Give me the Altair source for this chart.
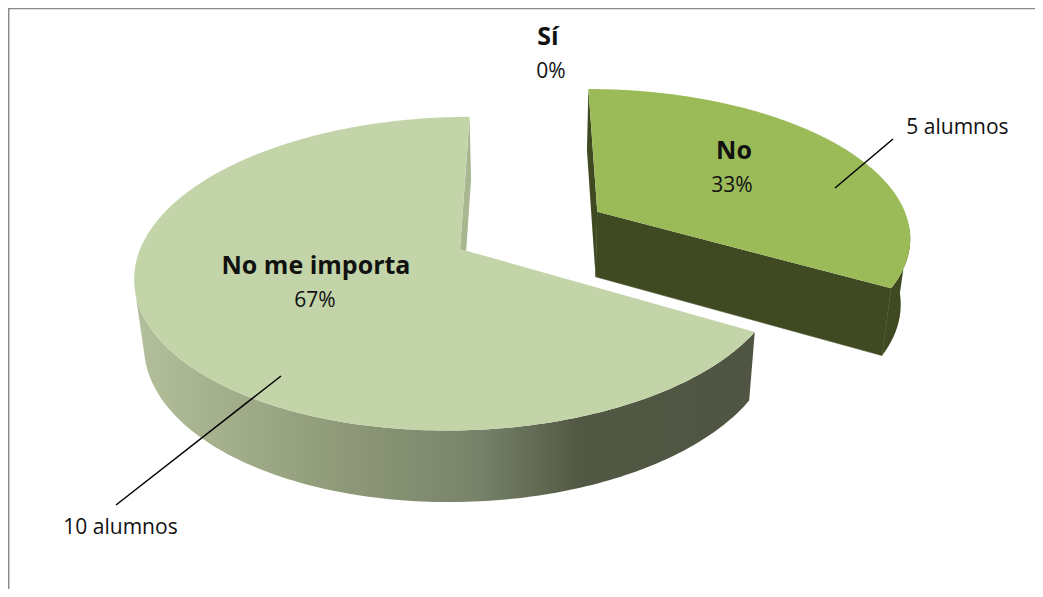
import numpy as np
import pandas as pd
import altair as alt

categories = ["Sí", "No", "No me importa"]
values = [0, 5, 10]
counts = ["", "5 alumnos", "10 alumnos"]

W, H = 1027, 581
VX, VY, A, B, K, EXPL, RAD = 530.0, 230.0, 320.0, 150.0, 0.158, 0.2475, 0.98
XS = alt.Scale(domain=[8, 8 + W], range=[0, W])
YS = alt.Scale(domain=[8, 8 + H], range=[0, H])


def project(X, Y):
    w = 1 + K * np.asarray(Y)
    return VX + A * np.asarray(X) / w, VY - B * np.asarray(Y) / w


def lower(sx, sy):
    return VX + 0.975 * (np.asarray(sx) - VX), np.asarray(sy) + 65 + 0.03 * (np.asarray(sy) - 212)


def wedge(start, end):
    mid = np.radians((start + end) / 2)
    cx, cy = EXPL * np.sin(mid), EXPL * np.cos(mid)
    th = np.radians(np.linspace(start, end, 240))
    ax, ay = project(cx + RAD * np.sin(th), cy + RAD * np.cos(th))
    px, py = project(np.array([cx]), np.array([cy]))
    return ax, ay, float(px[0]), float(py[0])


def poly(xs, ys, fill, seam=0):
    df = pd.DataFrame({"x": xs, "y": ys, "o": np.arange(len(xs))})
    kw = dict(stroke=fill, strokeWidth=seam) if seam else dict(strokeWidth=0)
    return alt.Chart(df).mark_line(fill=fill, **kw).encode(
        x=alt.X("x:Q", scale=XS, axis=None),
        y=alt.Y("y:Q", scale=YS, axis=None),
        order="o:Q",
    )


total = sum(values)
deg = 360 * np.cumsum(values) / total
no_s, no_e = deg[0], deg[1]
im_s, im_e = deg[1], deg[2]

layers = []

# No me importa
ax, ay, px, py = wedge(im_s, im_e)
bx, by = lower(ax, ay)
wall_fill = alt.Gradient(
    gradient="linear", x1=0, x2=1, y1=0, y2=0,
    stops=[
        alt.GradientStop(offset=0, color="#b4c09b"),
        alt.GradientStop(offset=0.3, color="#929d7b"),
        alt.GradientStop(offset=0.55, color="#79836a"),
        alt.GradientStop(offset=0.72, color="#515843"),
        alt.GradientStop(offset=1, color="#4f5542"),
    ],
)
# silhouette: arcs joined along their common tangent on the left
i = int(np.argmax(-65 * ax + 10 * ay))
j = int(np.argmax(-65 * bx + 10 * by))
layers.append(poly(np.r_[ax[: i + 1], bx[j::-1]], np.r_[ay[: i + 1], by[j::-1]], wall_fill))
pbx, pby = lower([px], [py])
layers.append(poly([ax[-1], bx[-1], pbx[0], px], [ay[-1], by[-1], pby[0], py], "#a9b790"))
layers.append(poly(np.r_[px, ax, px], np.r_[py, ay, py], "#c3d4a9"))

# No
ax, ay, px, py = wedge(no_s, no_e)
bx, by = lower(ax, ay)
pbx, pby = lower([px], [py])
dark = "#3f4a23"
i = int(np.argmax(65 * ax - 10 * ay))
j = int(np.argmax(65 * bx - 10 * by))
layers.append(poly(np.r_[ax[i:], bx[:j - 1:-1]], np.r_[ay[i:], by[:j - 1:-1]], dark))
layers.append(poly([ax[0], bx[0], pbx[0], px], [ay[0], by[0], pby[0], py], dark))
layers.append(poly([ax[-1], bx[-1], pbx[0], px], [ay[-1], by[-1], pby[0], py], dark, 0.6))
layers.append(poly(np.r_[px, ax, px], np.r_[py, ay, py], "#9bbb59"))

# leader lines
leaders = pd.DataFrame({
    "x": [835, 893, 281, 116], "y": [188, 139, 376, 505], "g": ["a", "a", "b", "b"],
})
layers.append(alt.Chart(leaders).mark_line(color="#000000", strokeWidth=1.5).encode(
    x=alt.X("x:Q", scale=XS, axis=None), y=alt.Y("y:Q", scale=YS, axis=None), detail="g:N"))

# frame
frame = pd.DataFrame({"x": [8.7, 8.7, 8 + W], "y": [8 + H, 8.6, 8.6]})
frame["o"] = range(3)
layers.append(alt.Chart(frame).mark_line(color="#8a8a8a", strokeWidth=1.5).encode(
    x=alt.X("x:Q", scale=XS, axis=None), y=alt.Y("y:Q", scale=YS, axis=None), order="o:Q"))

# labels
pct = [f"{round(100 * v / total)}%" for v in values]
names = pd.DataFrame({"t": categories, "x": [548, 734, 316], "y": [37, 151, 266]})
pcts = pd.DataFrame({"t": pct, "x": [551, 732, 315], "y": [72, 186, 301]})
notes = pd.DataFrame({"t": counts[1:], "x": [957.5, 120.5], "y": [128, 528]})
for df, kw in [
    (names, dict(fontSize=25, fontWeight="bold")),
    (pcts, dict(fontSize=21)),
    (notes, dict(fontSize=21)),
]:
    layers.append(alt.Chart(df).mark_text(font="Open Sans", color="#111111", align="center", baseline="middle", **kw).encode(
        x=alt.X("x:Q", scale=XS, axis=None), y=alt.Y("y:Q", scale=YS, axis=None), text="t:N"))

chart = alt.layer(*layers).properties(
    width=W, height=H, padding=0, autosize=alt.AutoSizeParams(type="none")
).configure_view(stroke=None).configure(background="#ffffff")
chart.save("out.html", embed_options={"renderer": "svg", "actions": False})
